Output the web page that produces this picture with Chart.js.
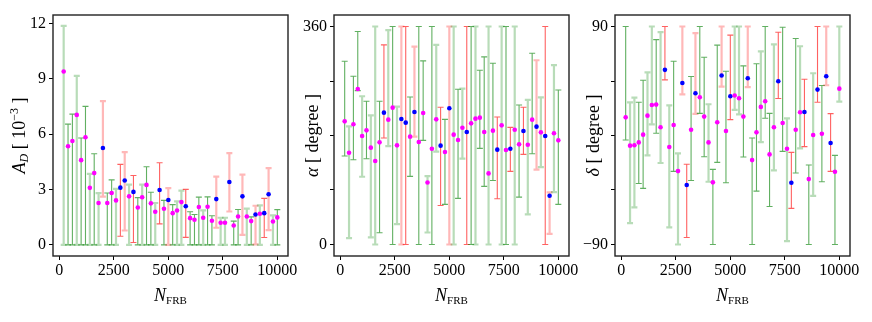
<!DOCTYPE html>
<html>
<head>
<meta charset="utf-8">
<script src="https://cdn.jsdelivr.net/npm/chart.js@4.4.0/dist/chart.umd.min.js"></script>
<style>
body { margin: 0; background: #fff; }
#wrap { position: relative; width: 872px; height: 322px; }
canvas { position: absolute; left: 0; top: 0; }
</style>
</head>
<body>
<div id="wrap">
<canvas id="cAD" width="872" height="322"></canvas>
<canvas id="cAlpha" width="872" height="322"></canvas>
<canvas id="cDelta" width="872" height="322"></canvas>
</div>
<script>
// number of FRBs in each mock sample
var nFrb = [200,400,600,800,1000,1200,1400,1600,1800,2000,
  2200,2400,2600,2800,3000,3200,3400,3600,3800,4000,
  4200,4400,4600,4800,5000,5200,5400,5600,5800,6000,
  6200,6400,6600,6800,7000,7200,7400,7600,7800,8000,
  8200,8400,8600,8800,9000,9200,9400,9600,9800,10000];

// 1 = blue point with red error bar
var flagged = [0,0,0,0,0,0,0,0,0,1, 0,0,0,1,1,0,1,0,0,0, 0,0,1,0,1,0,0,0,1,0,
  0,0,0,0,0,1,0,0,1,0, 0,1,0,0,1,0,1,1,0,0];

// dipole amplitude A_D [1e-3]
var adVal = [9.39,5.34,5.63,7.04,4.59,5.83,3.09,3.89,2.27,5.25,
  2.27,2.81,2.41,3.10,3.49,2.63,2.87,2.03,2.58,3.25,
  2.25,1.80,2.97,1.96,2.43,1.72,1.86,2.32,2.09,1.45,
  1.36,2.05,1.47,2.07,1.31,2.48,1.20,1.20,3.41,1.05,
  1.54,2.63,1.54,1.29,1.65,1.69,1.72,2.74,1.27,1.49];
var adHi = [11.86,6.54,7.08,9.15,5.79,7.50,3.85,4.94,2.81,7.79,
  2.81,3.52,3.03,4.36,5.03,3.27,3.76,2.56,3.27,4.23,
  2.85,2.27,4.45,2.41,3.08,2.18,2.36,2.94,3.01,1.80,
  1.65,2.59,1.87,2.60,1.58,3.70,1.47,1.47,4.97,1.29,
  1.92,3.81,1.96,1.52,2.12,2.14,2.52,4.16,1.60,1.91];
var adLo = [0,0,0,0,0,0,0,0,0,2.61,
  0,0,0,0.47,0.78,0,0.13,0,0,0,
  0,0,1.14,0,0,0,0,0,0.41,0,
  0,0,0,0,0,0.93,0,0,1.81,0,
  0,0.54,0,0,0.03,0,0.40,0.80,0,0];
var adFaint = [1,0,0,1,0,0,1,0,1,1, 0,0,1,0,1,1,0,0,1,0, 0,1,0,0,1,0,1,1,0,0,
  0,0,1,0,0,1,1,1,1,0, 0,1,1,0,1,1,0,1,1,0];
var adTicks = [0,3,6,9,12];

// dipole direction alpha [degree]
var alphaVal = [203.4,151.6,198.5,256.9,179.2,188.5,159.9,137.8,168.7,217.7,
  206.2,226.0,163.7,207.3,201.2,178.1,218.9,169.2,217.2,102.5,
  158.2,206.7,163.2,152.7,224.9,181.4,172.6,192.9,185.8,200.1,
  207.8,209.5,185.8,117.4,188.0,156.6,196.8,156.0,158.2,189.6,
  165.4,187.4,164.8,206.2,194.6,185.2,179.2,80.5,183.6,172.0];
var alphaHi = [302.7,195.2,277.9,351.7,244.8,236.5,213.3,360,236.5,329.7,
  353.9,360,227.7,360,360,243.7,326.9,360,303.2,113.0,
  360,329.7,226.6,206.7,360,360,256.4,257.5,360,360,
  360,287.8,309.9,360,299.4,210.6,360,360,193.5,360,
  230.4,226.6,238.7,315.9,304.3,243.1,360,86.0,296.1,255.2];
var alphaLo = [146.1,10.5,140.0,254.1,111.9,141.7,11.6,0,19.3,175.9,
  162.6,0,33.6,0,0,112.5,178.1,0,172.0,19.8,
  0,153.3,64.5,66.2,0,0,76.1,141.7,0,0,
  0,158.8,95.9,0,105.8,75.5,0,0,120.7,0,
  78.3,148.8,49.6,149.9,123.5,127.9,0,17.6,86.6,66.2];
var alphaFaint = [0,1,0,0,1,0,1,1,0,0, 1,0,1,1,0,0,1,0,0,1, 0,1,0,0,1,1,0,1,0,0,
  1,0,0,1,0,0,1,0,0,1, 0,0,1,0,1,1,0,1,1,0];
var alphaTicks = [0,90,180,270,360];

// dipole direction delta [degree]
var deltaVal = [15.0,-8.4,-8.1,-5.7,0.7,16.4,25.2,25.5,6.8,54.2,
  -9.5,8.7,-29.4,43.4,-40.9,4.8,34.9,31.6,15.6,-5.7,
  -38.7,10.9,49.5,3.7,32.4,33.0,30.8,15.6,47.3,-20.3,
  2.6,23.6,28.3,-15.6,6.8,44.8,10.3,-10.9,-39.0,4.8,
  19.2,19.4,-36.0,0.4,37.9,1.5,48.9,-6.2,-29.9,38.7];
var deltaHi = [90,27.4,31.3,27.4,45.6,52.2,90,79.2,85.3,90,
  24.9,61.3,-14.7,90,-23.8,48.7,84.5,90,64.6,25.8,
  -28.0,74.6,90,53.1,82.9,90,90,57.5,90,-2.1,
  59.2,69.4,90,18.3,75.2,85.3,89.4,14.2,-13.9,80.1,
  73.7,46.5,-24.4,51.4,90,41.3,90,18.1,-16.4,90];
var deltaLo = [-3.7,-72.4,-59.4,-39.6,-43.7,-16.4,9.2,1.8,-22.7,45.9,
  -75.9,-29.6,-90,34.0,-84.2,-37.1,17.8,18.3,-17.5,-38.2,
  -90,-22.2,40.4,-39.0,13.1,21.1,17.5,-17.8,39.9,-90,
  -45.9,-5.4,14.2,-58.6,-28.8,30.5,-13.1,-87.2,-60.2,-31.0,
  -10.6,-9.2,-90,-49.8,27.4,-38.2,41.5,-29.6,-90,28.0];
var deltaFaint = [0,1,1,0,0,1,1,0,1,0, 1,0,1,1,0,0,1,0,0,1, 0,0,1,0,0,1,1,0,1,0,
  0,1,0,0,1,0,0,1,0,0, 1,0,0,1,0,0,1,0,0,1];
var deltaTicks = [-90,-45,0,45,90];

var xTicks = [0,2500,5000,7500,10000];

var SERIF = "'Liberation Serif', 'DejaVu Serif', serif";

function drawRich(ctx, parts, x, y, rotate) {
  ctx.save();
  ctx.translate(x, y);
  if (rotate) ctx.rotate(-Math.PI / 2);
  var w = 0;
  parts.forEach(function(p) { ctx.font = p.f; p.w = ctx.measureText(p.t).width; w += p.w; });
  var cx = -w / 2;
  ctx.fillStyle = '#000';
  ctx.textBaseline = 'alphabetic';
  ctx.textAlign = 'left';
  parts.forEach(function(p) { ctx.font = p.f; ctx.fillText(p.t, cx, p.dy || 0); cx += p.w; });
  ctx.restore();
}

var nTitle = [
  {t: 'N', f: 'italic 18px ' + SERIF},
  {t: 'FRB', f: '11px ' + SERIF, dy: 3}
];

function panelDecor(lo, hi, faint, yTitle, titleOff) {
  return {
    id: 'panelDecor',
    beforeDatasetsDraw: function(chart) {
      var ctx = chart.ctx, xs = chart.scales.x, ys = chart.scales.y;
      ctx.save();
      for (var i = 0; i < nFrb.length; i++) {
        var x = xs.getPixelForValue(nFrb[i]);
        var y0 = ys.getPixelForValue(lo[i]), y1 = ys.getPixelForValue(hi[i]);
        var red = flagged[i] == 1, light = faint[i] == 1;
        if (red) ctx.strokeStyle = light ? 'rgba(255,0,0,0.28)' : 'rgba(255,0,0,0.62)';
        else ctx.strokeStyle = light ? 'rgba(0,128,0,0.28)' : 'rgba(0,128,0,0.62)';
        ctx.lineWidth = light ? 2.2 : 1.1;
        ctx.beginPath();
        ctx.moveTo(x, y0); ctx.lineTo(x, y1);
        ctx.moveTo(x - 3, y0); ctx.lineTo(x + 3, y0);
        ctx.moveTo(x - 3, y1); ctx.lineTo(x + 3, y1);
        ctx.stroke();
      }
      ctx.restore();
    },
    afterDraw: function(chart) {
      var ctx = chart.ctx, a = chart.chartArea;
      ctx.save();
      ctx.strokeStyle = '#222';
      ctx.lineWidth = 1.4;
      ctx.strokeRect(a.left, a.top, a.right - a.left, a.bottom - a.top);
      ctx.restore();
      drawRich(ctx, yTitle, a.left - titleOff, (a.top + a.bottom) / 2, true);
      drawRich(ctx, nTitle, (a.left + a.right) / 2, 301, false);
    }
  };
}

function makeChart(id, left, val, lo, hi, faint, ymin, ymax, yTicks, tickLabel, yTitle, titleOff) {
  var pts = nFrb.map(function(n, i) { return {x: n, y: val[i]}; });
  var cols = flagged.map(function(f) { return f ? '#0000ff' : '#ff00ff'; });
  new Chart(id, {
    type: 'scatter',
    data: {
      datasets: [{
        data: pts,
        pointBackgroundColor: cols,
        pointBorderWidth: 0,
        pointRadius: 2.3
      }]
    },
    options: {
      responsive: false,
      animation: false,
      events: [],
      devicePixelRatio: 1,
      layout: {padding: {left: left - 40, right: 872 - left - 235, top: 15, bottom: 0}},
      plugins: {legend: {display: false}, tooltip: {enabled: false}},
      scales: {
        x: {
          min: -290, max: 10490,
          afterBuildTicks: function(s) { s.ticks = xTicks.map(function(v) { return {value: v}; }); },
          afterFit: function(s) { s.height = 66; },
          grid: {drawOnChartArea: false, drawTicks: true, tickLength: 4, color: '#000', tickColor: '#000'},
          border: {display: false},
          ticks: {autoSkip: false, maxRotation: 0, padding: 1, color: '#000', font: {family: SERIF, size: 16},
            callback: function(v) { return '' + v; }}
        },
        y: {
          min: ymin, max: ymax,
          afterBuildTicks: function(s) { s.ticks = yTicks.map(function(v) { return {value: v}; }); },
          afterFit: function(s) { s.width = 40; },
          grid: {drawOnChartArea: false, drawTicks: true, tickLength: 4, color: '#000', tickColor: '#000'},
          border: {display: false},
          ticks: {autoSkip: false, padding: 3, color: '#000', font: {family: SERIF, size: 16}, callback: tickLabel}
        }
      }
    },
    plugins: [panelDecor(lo, hi, faint, yTitle, titleOff)]
  });
}

function signed(v) { return v < 0 ? '\u2212' + Math.abs(v) : '' + v; }
function alphaEnds(v) { return (v == 0 || v == 360) ? signed(v) : ''; }
function deltaEnds(v) { return (v == -90 || v == 90) ? signed(v) : ''; }

var adTitle = [
  {t: 'A', f: 'italic 18px ' + SERIF},
  {t: 'D', f: 'italic 12px ' + SERIF, dy: 3},
  {t: ' [ 10', f: '18px ' + SERIF},
  {t: '\u22123', f: '12px ' + SERIF, dy: -7},
  {t: ' ]', f: '18px ' + SERIF}
];
var alphaTitle = [
  {t: '\u03b1', f: 'italic 18px ' + SERIF},
  {t: ' [ degree ]', f: '18px ' + SERIF}
];
var deltaTitle = [
  {t: '\u03b4', f: 'italic 18px ' + SERIF},
  {t: ' [ degree ]', f: '18px ' + SERIF}
];

makeChart('cAD', 53, adVal, adLo, adHi, adFaint, -0.6, 12.45, adTicks, function(v) { return signed(v); }, adTitle, 28);
makeChart('cAlpha', 334, alphaVal, alphaLo, alphaHi, alphaFaint, -19, 379, alphaTicks, alphaEnds, alphaTitle, 16);
makeChart('cDelta', 615, deltaVal, deltaLo, deltaHi, deltaFaint, -99.5, 99.5, deltaTicks, deltaEnds, deltaTitle, 16);
</script>
</body>
</html>
